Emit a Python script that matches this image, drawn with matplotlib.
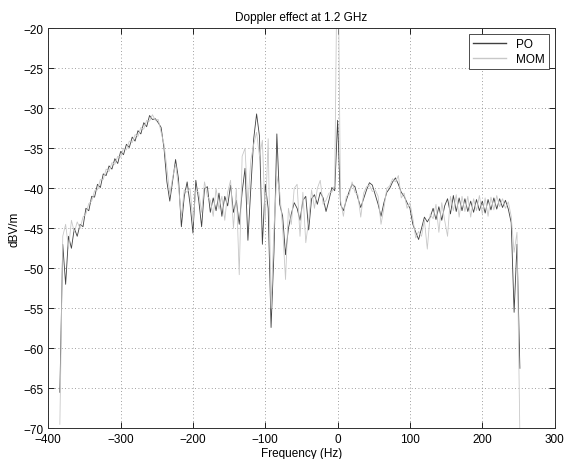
import matplotlib
matplotlib.use("Agg")
import matplotlib.pyplot as plt
import numpy as np

# frequency bins (Hz), 4 Hz apart
freq = np.arange(-384, 256, 4)

# PO (physical optics), dBV/m, one row = 10 bins
po = [
    -65.5, -47.0, -52.0, -46.0, -47.5, -45.0, -46.0, -44.5, -44.8, -42.5,   # -384 .. -348
    -42.8, -41.0, -41.1, -39.5, -39.9, -38.2, -38.4, -37.2, -37.6, -36.3,   # -344 .. -308
    -36.9, -35.4, -35.8, -34.5, -34.9, -33.6, -34.1, -32.8, -33.2, -31.8,   # -304 .. -268
    -32.3, -30.9, -31.4, -31.3, -31.8, -32.4, -35.0, -39.2, -41.6, -39.0,   # -264 .. -228
    -36.4, -38.8, -44.8, -41.0, -39.2, -42.0, -45.6, -39.0, -41.5, -44.8,   # -224 .. -188
    -40.0, -39.8, -43.0, -41.2, -42.8, -40.6, -43.5, -41.0, -42.2, -39.6,   # -184 .. -148
    -43.0, -41.5, -44.5, -40.5, -37.5, -46.5, -40.0, -33.8, -30.7, -33.5,   # -144 .. -108
    -47.0, -39.5, -42.5, -57.4, -48.0, -33.2, -42.0, -43.5, -48.3, -45.0,   # -104 .. -68
    -43.2, -41.8, -42.5, -44.0, -41.5, -41.0, -45.2, -41.3, -40.8, -42.0,   # -64 .. -28
    -40.5, -41.2, -42.9, -41.5, -39.9, -40.3, -31.5, -42.0, -42.8, -41.5,   # -24 .. 12
    -40.4, -39.5, -39.8, -41.2, -42.4, -41.3, -40.2, -39.3, -39.6, -40.8,   # 16 .. 52
    -42.0, -43.5, -41.8, -40.5, -40.0, -39.2, -38.7, -39.5, -40.5, -41.0,   # 56 .. 92
    -41.8, -42.5, -44.5, -45.5, -46.4, -45.0, -43.6, -44.2, -43.6, -42.5,   # 96 .. 132
    -43.9, -42.3, -44.0, -42.2, -41.3, -43.2, -40.9, -42.9, -41.2, -42.8,   # 136 .. 172
    -41.3, -42.9, -41.6, -43.0, -41.4, -42.8, -41.6, -43.1, -41.4, -42.7,   # 176 .. 212
    -41.2, -42.6, -41.3, -42.4, -41.5, -42.6, -44.3, -55.5, -47.0, -62.5,   # 216 .. 252
]

# MOM (method of moments), dBV/m
mom = [
    -69.5, -46.0, -44.5, -47.5, -44.0, -45.5, -44.2, -45.0, -43.6, -43.2,
    -41.9, -41.6, -40.3, -40.2, -38.9, -38.9, -37.6, -37.9, -36.8, -37.0,
    -36.0, -36.1, -35.0, -35.2, -34.1, -34.3, -33.3, -33.5, -32.4, -32.6,
    -31.5, -31.6, -30.8, -31.5, -31.4, -33.0, -34.5, -37.5, -40.8, -38.6,
    -37.0, -39.8, -43.5, -40.2, -40.5, -40.0, -44.2, -40.3, -40.5, -43.0,
    -39.2, -41.0, -41.5, -43.5, -40.0, -42.6, -41.0, -44.0, -40.5, -39.0,
    -45.0, -40.0, -50.8, -36.0, -35.0, -42.0, -36.5, -34.5, -33.0, -36.0,
    -34.0, -44.0, -33.8, -55.0, -45.0, -38.5, -40.5, -45.0, -51.4, -42.5,
    -44.5, -40.0, -39.5, -46.0, -40.5, -46.8, -44.0, -40.2, -42.5, -40.0,
    -39.0, -42.0, -41.5, -40.6, -40.5, -39.6, -5.0, -41.5, -43.5, -41.0,
    -40.8, -39.2, -40.5, -40.8, -43.6, -40.6, -39.8, -39.6, -40.4, -40.2,
    -41.0, -44.5, -42.5, -40.0, -39.7, -38.8, -39.2, -38.4, -41.2, -40.6,
    -42.5, -41.8, -43.8, -46.2, -45.4, -46.0, -44.0, -47.6, -43.2, -43.8,
    -42.0, -45.5, -41.8, -44.0, -46.0, -41.0, -42.8, -40.8, -43.6, -41.0,
    -42.9, -41.0, -43.6, -41.3, -42.8, -40.9, -43.2, -41.2, -43.5, -41.1,
    -42.7, -40.9, -42.3, -41.3, -42.5, -41.7, -43.5, -48.0, -45.5, -71.0,
]

plt.rcParams['font.family'] = ['Liberation Sans', 'DejaVu Sans']
plt.rcParams['font.size'] = 8.5

fig = plt.figure(figsize=(5.7, 4.6), dpi=100)
ax = fig.add_axes([0.0847, 0.0667, 0.8883, 0.8696])

ax.plot(freq, po, color='#404040', lw=0.6, label='PO')
ax.plot(freq, mom, color='#c8c8c8', lw=0.6, label='MOM')

ax.set_xlim(-400, 300)
ax.set_ylim(-70, -20)
ax.set_xticks(np.arange(-400, 301, 100))
ax.set_yticks(np.arange(-70, -19, 5))
ax.grid(True, linestyle=(0, (1, 3)), color='#808080', lw=0.6)
ax.tick_params(direction='in', top=True, right=True, length=4, width=0.6, labelsize=8.5)
for s in ax.spines.values():
    s.set_linewidth(0.7)
    s.set_color('#303030')

ax.set_title('Doppler effect at 1.2 GHz', fontsize=8.5, pad=6)
ax.set_xlabel('Frequency (Hz)', fontsize=8.5, labelpad=1)
ax.set_ylabel('dBV/m', fontsize=8.5, labelpad=2)

leg = ax.legend(loc='upper right', fontsize=8.5, fancybox=False, edgecolor='#303030',
                framealpha=1, handlelength=2.8, handletextpad=0.8, borderpad=0.4,
                labelspacing=0.2, borderaxespad=0.45)
leg.get_frame().set_linewidth(0.6)
for line in leg.get_lines():
    line.set_linewidth(1.0)

fig.savefig('out.png', dpi=100)
